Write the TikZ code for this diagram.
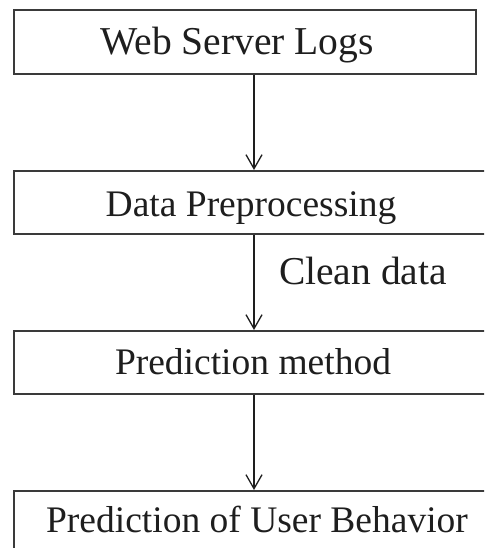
\documentclass[tikz,border=0pt]{standalone}
\usepackage{fontspec}
\setmainfont{Liberation Serif}
\usetikzlibrary{arrows.meta}
\definecolor{edge}{HTML}{3A3A3A}
\definecolor{ink}{HTML}{1E1E1E}
\begin{document}
\begin{tikzpicture}[x=1pt,y=-1pt,
  stagebox/.style={draw=edge,line width=2pt,fill=white,rectangle,inner sep=0pt,anchor=north west},
  lbl/.style={text=ink,font=\fontsize{37.5}{40}\selectfont,inner sep=0pt,anchor=base},
  biglbl/.style={lbl,font=\fontsize{39.5}{42}\selectfont},
  flow/.style={draw=ink,line width=1.3pt,-{Straight Barb[length=14pt,width=16pt,line width=1.3pt]}}]
\useasboundingbox (0,0) rectangle (484,548);
\clip (0,0) rectangle (484,548);
\fill[white] (0,0) rectangle (484,548);
% boxes
\node[stagebox,minimum width=462pt,minimum height=64pt] (b1) at (13,9) {};
\node[stagebox,minimum width=490pt,minimum height=63pt] (b2) at (13,170) {};
\node[stagebox,minimum width=490pt,minimum height=63pt] (b3) at (13,330) {};
\node[stagebox,minimum width=490pt,minimum height=70pt] (b4) at (13,490) {};
% labels
\node[biglbl] (t1) at (237,55) {Web Server Logs};
\node[lbl] (t2) at (251,216) {Data Preprocessing};
\node[lbl] (t3) at (253,374) {Prediction method};
\node[lbl] (t4) at (257,532) {Prediction of User Behavior};
\node[biglbl] (t5) at (363,284) {Clean data};
% connectors
\coordinate (a1s) at (254,73);
\coordinate (a1e) at (254,169);
\coordinate (a2s) at (254,233);
\coordinate (a2e) at (254,329);
\coordinate (a3s) at (254,393);
\coordinate (a3e) at (254,489);
\draw[flow] (b1.south -| a1s) -- (b2.north -| a1e);
\draw[flow] (b2.south -| a2s) -- (b3.north -| a2e);
\draw[flow] (b3.south -| a3s) -- (b4.north -| a3e);
\end{tikzpicture}
\end{document}
